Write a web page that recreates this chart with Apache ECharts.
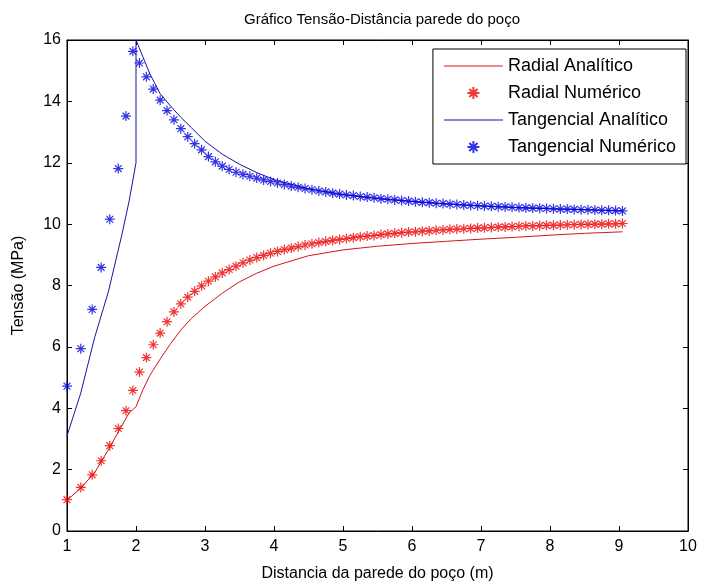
<!DOCTYPE html>
<html>
<head>
<meta charset="utf-8">
<script src="https://cdn.jsdelivr.net/npm/echarts@6/dist/echarts.min.js"></script>
<style>
  html, body { margin: 0; padding: 0; background: #fff; }
  #chart { width: 703px; height: 587px; }
</style>
</head>
<body>
<div id="chart"></div>
<script>
// pontos da malha (solucao numerica)
var numX = [1.0, 1.2, 1.365, 1.495, 1.62, 1.743, 1.855, 1.955,
    2.05, 2.15, 2.25, 2.35, 2.45, 2.55, 2.65, 2.75, 2.85, 2.95,
    3.05, 3.15, 3.25, 3.35, 3.45, 3.55, 3.65, 3.75, 3.85, 3.95,
    4.05, 4.15, 4.25, 4.35, 4.45, 4.55, 4.65, 4.75, 4.85, 4.95,
    5.05, 5.15, 5.25, 5.35, 5.45, 5.55, 5.65, 5.75, 5.85, 5.95,
    6.05, 6.15, 6.25, 6.35, 6.45, 6.55, 6.65, 6.75, 6.85, 6.95,
    7.05, 7.15, 7.25, 7.35, 7.45, 7.55, 7.65, 7.75, 7.85, 7.95,
    8.05, 8.15, 8.25, 8.35, 8.45, 8.55, 8.65, 8.75, 8.85, 8.95,
    9.05];
var radialNum = [1.02, 1.42, 1.83, 2.29, 2.78, 3.34, 3.92, 4.58,
    5.18, 5.65, 6.07, 6.45, 6.82, 7.14, 7.40, 7.62, 7.81, 7.99,
    8.14, 8.28, 8.41, 8.52, 8.63, 8.74, 8.83, 8.91, 8.98, 9.05,
    9.11, 9.17, 9.22, 9.27, 9.32, 9.36, 9.40, 9.44, 9.47, 9.50,
    9.53, 9.56, 9.59, 9.61, 9.63, 9.66, 9.68, 9.70, 9.72, 9.74,
    9.75, 9.77, 9.78, 9.80, 9.81, 9.83, 9.84, 9.85, 9.86, 9.87,
    9.88, 9.89, 9.90, 9.91, 9.92, 9.93, 9.94, 9.94, 9.95, 9.96,
    9.96, 9.97, 9.98, 9.98, 9.99, 9.99, 10.00, 10.00, 10.01, 10.01,
    10.02];
var tangNum = [4.72, 5.94, 7.22, 8.59, 10.16, 11.81, 13.52, 15.63,
    15.25, 14.80, 14.40, 14.04, 13.70, 13.40, 13.11, 12.85, 12.62, 12.42,
    12.20, 12.03, 11.89, 11.78, 11.69, 11.62, 11.56, 11.50, 11.44, 11.39,
    11.34, 11.29, 11.24, 11.20, 11.16, 11.12, 11.08, 11.05, 11.01, 10.98,
    10.95, 10.93, 10.90, 10.88, 10.86, 10.83, 10.81, 10.79, 10.77, 10.75,
    10.73, 10.71, 10.70, 10.68, 10.67, 10.65, 10.64, 10.62, 10.61, 10.60,
    10.59, 10.58, 10.57, 10.56, 10.55, 10.54, 10.53, 10.52, 10.52, 10.51,
    10.50, 10.49, 10.49, 10.48, 10.47, 10.47, 10.46, 10.45, 10.45, 10.44,
    10.43];

// solucao analitica
var anaX = [1.0, 1.2, 1.4, 1.6, 1.8, 1.9, 2.0, 2.0, 2.1, 2.2, 2.35, 2.5, 2.65, 2.8,
    3.0, 3.25, 3.5, 3.75, 4.0, 4.5, 5.0, 5.5, 6.0, 6.5, 7.0, 7.5, 8.0, 8.5, 9.05];
var radialAna = [1.0, 1.40, 1.90, 2.65, 3.45, 3.85, 4.05, 4.05, 4.6, 5.07, 5.60, 6.10, 6.55, 6.92,
    7.32, 7.75, 8.12, 8.40, 8.63, 8.97, 9.16, 9.28, 9.37, 9.44, 9.51, 9.57, 9.64, 9.70, 9.75];
var tangAna = [3.1, 4.5, 6.3, 7.8, 9.7, 10.75, 12.0, 16.0, 15.45, 14.9, 14.25, 13.85, 13.48, 13.15,
    12.7, 12.28, 11.95, 11.68, 11.45, 11.15, 10.96, 10.83, 10.74, 10.66, 10.59, 10.54, 10.50, 10.47, 10.43];

var names = ['Radial Analítico', 'Radial Numérico', 'Tangencial Analítico', 'Tangencial Numérico'];

var FONT = 'Liberation Sans, Arial, sans-serif';
var STAR = 'path://M5,0L5,10M0,5L10,5M1.6,1.6L8.4,8.4M1.6,8.4L8.4,1.6';
var LINE_ICON = 'path://M0,0L59,0L59,1L0,1Z';

function pairs(xs, ys) {
    var out = [];
    for (var i = 0; i < xs.length; i++) {
        out.push([xs[i], ys[i]]);
    }
    return out;
}

var myChart = echarts.init(document.getElementById('chart'));
var axisCommon = {
    axisLine: { show: true, onZero: false, lineStyle: { color: '#000', width: 1 } },
    axisTick: { show: true, inside: true, length: 5, lineStyle: { color: '#000' } },
    splitLine: { show: false }
};

var option = {
    backgroundColor: '#fff',
    animation: false,
    title: {
        text: 'Gráfico Tensão-Distância parede do poço',
        left: 377,
        textAlign: 'center',
        top: 7,
        textStyle: { fontFamily: FONT, fontSize: 15, fontWeight: 'normal', color: '#000' }
    },
    grid: {
        left: 67, right: 15, top: 40, bottom: 54,
        show: true, borderColor: '#000', borderWidth: 1, backgroundColor: '#fff'
    },
    legend: {
        data: [
            { name: names[0], icon: LINE_ICON },
            { name: names[1] },
            { name: names[2], icon: LINE_ICON },
            { name: names[3] }
        ],
        orient: 'vertical',
        right: 17,
        top: 49,
        padding: [8, 10, 8, 11],
        itemWidth: 59,
        itemHeight: 12,
        itemGap: 9,
        borderColor: '#000',
        borderWidth: 1,
        backgroundColor: '#fff',
        textStyle: { fontFamily: FONT, fontSize: 18, color: '#000' }
    },
    series: []
};

option.xAxis = [
    Object.assign({}, axisCommon, {
        type: 'value', min: 1, max: 10, interval: 1, position: 'bottom',
        name: 'Distancia da parede do poço (m)', nameLocation: 'middle', nameGap: 35,
        nameTextStyle: { fontFamily: FONT, fontSize: 16, color: '#000' },
        axisLabel: { fontFamily: FONT, fontSize: 16, color: '#000', margin: 8 }
    }),
    Object.assign({}, axisCommon, {
        type: 'value', min: 1, max: 10, interval: 1, position: 'top',
        axisLabel: { show: false }
    })
];
option.yAxis = [
    Object.assign({}, axisCommon, {
        type: 'value', min: 0, max: 16, interval: 2, position: 'left',
        name: 'Tensão (MPa)', nameLocation: 'middle', nameGap: 40,
        nameTextStyle: { fontFamily: FONT, fontSize: 16, color: '#000' },
        axisLabel: { fontFamily: FONT, fontSize: 16, color: '#000', margin: 6 }
    }),
    Object.assign({}, axisCommon, {
        type: 'value', min: 0, max: 16, interval: 2, position: 'right',
        axisLabel: { show: false }
    })
];

option.series = [
    {
        name: names[0], type: 'line', data: pairs(anaX, radialAna),
        symbol: 'none', color: '#d01818',
        lineStyle: { color: '#d01818', width: 1 }, z: 2
    },
    {
        name: names[1], type: 'scatter', data: pairs(numX, radialNum),
        symbol: STAR, symbolSize: 10, symbolKeepAspect: true, color: '#ff0000',
        itemStyle: { color: '#ff0000', borderColor: '#ee0000', borderWidth: 1.2 }, z: 3
    },
    {
        name: names[2], type: 'line', data: pairs(anaX, tangAna),
        symbol: 'none', color: '#15159a',
        lineStyle: { color: '#15159a', width: 1 }, z: 2
    },
    {
        name: names[3], type: 'scatter', data: pairs(numX, tangNum),
        symbol: STAR, symbolSize: 10, symbolKeepAspect: true, color: '#0000ff',
        itemStyle: { color: '#0000ff', borderColor: '#0000e0', borderWidth: 1.2 }, z: 3
    }
];

myChart.setOption(option);
</script>
</body>
</html>
